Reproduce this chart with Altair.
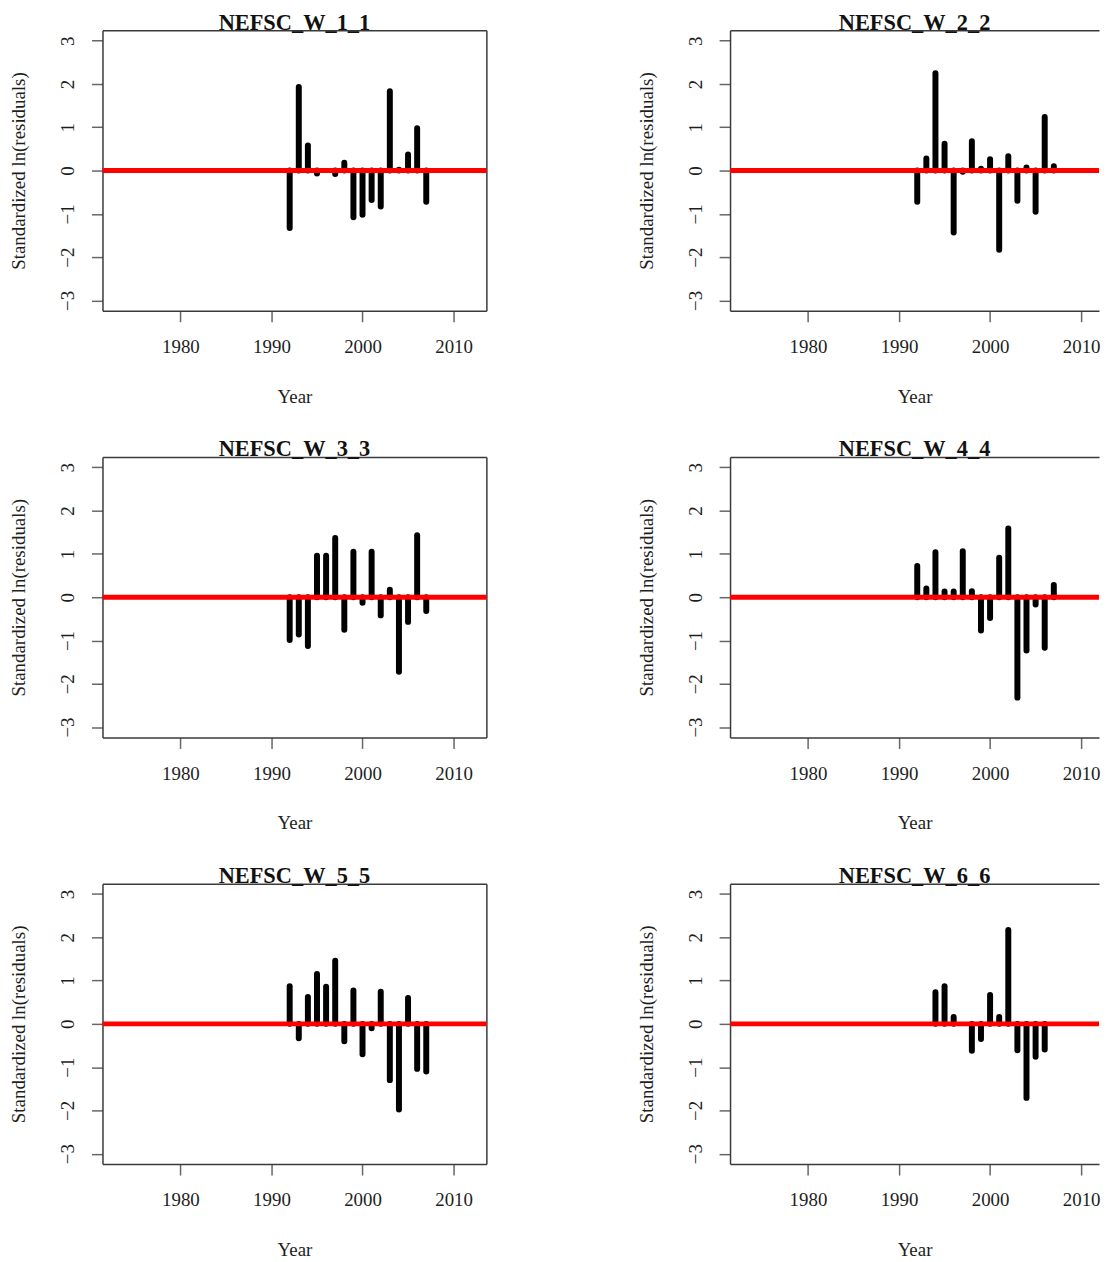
import altair as alt
import pandas as pd

years = list(range(1992, 2008))

titles = ["NEFSC_W_1_1", "NEFSC_W_2_2", "NEFSC_W_3_3",
          "NEFSC_W_4_4", "NEFSC_W_5_5", "NEFSC_W_6_6"]

w11 = [-1.33, 1.93, 0.58, -0.07, None, -0.08, 0.18, -1.08, -1.02, -0.68, -0.83, 1.83, 0.02, 0.37, 0.98, -0.72]
w22 = [-0.72, 0.28, 2.25, 0.62, -1.43, -0.03, 0.68, 0.04, 0.26, -1.83, 0.33, -0.70, 0.07, -0.95, 1.24, 0.10]
w33 = [-0.99, -0.86, -1.13, 0.96, 0.96, 1.37, -0.75, 1.05, -0.13, 1.05, -0.42, 0.17, -1.72, -0.57, 1.43, -0.32]
w44 = [0.72, 0.20, 1.04, 0.13, 0.13, 1.06, 0.14, -0.77, -0.48, 0.91, 1.59, -2.32, -1.23, -0.17, -1.17, 0.28]
w55 = [0.87, -0.33, 0.62, 1.15, 0.86, 1.46, -0.40, 0.77, -0.70, -0.10, 0.74, -1.30, -1.98, 0.60, -1.04, -1.10]
w66 = [None, None, 0.73, 0.87, 0.16, None, -0.62, -0.35, 0.67, 0.16, 2.17, -0.61, -1.71, -0.76, -0.59, None]

series = [w11, w22, w33, w44, w55, w66]

x_ticks = [1980, 1990, 2000, 2010]
y_ticks = [-3, -2, -1, 0, 1, 2, 3]

FONT = "Liberation Serif"
FRAME = "#3a3a3a"
TXT = "#1e1e1e"

X_MIN = 1971.44
PX_PER_YEAR = 9.155
W_LEFT = 386
W_RIGHT = 371
H = 282
Y_DOM = [-3.24, 3.24]


def panel(name, vals, right_col):
    df = pd.DataFrame({"Year": years, "Residual": vals}).dropna()
    width = W_RIGHT if right_col else W_LEFT
    xscale = alt.Scale(domain=[X_MIN, X_MIN + width / PX_PER_YEAR], nice=False, zero=False)
    yscale = alt.Scale(domain=Y_DOM, nice=False, zero=False)

    x_axis = alt.Axis(orient="bottom", values=x_ticks, format="d", grid=False,
                      domain=True, domainColor=FRAME, domainWidth=1.5,
                      tickSize=11, tickColor="#666", tickWidth=1.5,
                      labelFont=FONT, labelFontSize=19, labelColor=TXT,
                      labelPadding=16, labelFlush=False, labelOverlap=False,
                      title="Year", titleFont=FONT, titleFontSize=19,
                      titleFontWeight="normal", titleColor=TXT, titlePadding=31,
                      minExtent=0)
    y_axis = alt.Axis(orient="left", values=y_ticks, format="d", grid=False,
                      domain=True, domainColor=FRAME, domainWidth=1.5,
                      tickSize=11, tickColor="#666", tickWidth=1.5,
                      labelFont=FONT, labelFontSize=19, labelColor=TXT,
                      labelAngle=270, labelAlign="center", labelBaseline="bottom",
                      labelPadding=14, labelFlush=False, labelOverlap=False,
                      title="Standardized ln(residuals)", titleFont=FONT,
                      titleFontSize=19, titleFontWeight="normal", titleColor=TXT,
                      titlePadding=30, minExtent=0)

    bars = alt.Chart(df).mark_rule(color="black", strokeWidth=6, strokeCap="round").encode(
        x=alt.X("Year:Q", scale=xscale, axis=x_axis),
        y=alt.Y("Residual:Q", scale=yscale, axis=y_axis),
        y2=alt.datum(0),
    )

    top_axis = alt.Axis(orient="top", labels=False, ticks=False, grid=False,
                        domain=True, domainColor=FRAME, domainWidth=1.5, title=None,
                        minExtent=0, maxExtent=0)
    if right_col:
        frame_y = alt.Y("Residual:Q", scale=yscale, axis=None)
    else:
        right_axis = alt.Axis(orient="right", labels=False, ticks=False, grid=False,
                              domain=True, domainColor=FRAME, domainWidth=1.5, title=None,
                              minExtent=0, maxExtent=0)
        frame_y = alt.Y("Residual:Q", scale=yscale, axis=right_axis)
    frame = alt.Chart(df).mark_point(opacity=0).encode(
        x=alt.X("Year:Q", scale=xscale, axis=top_axis),
        y=frame_y,
    )

    zero = alt.Chart(pd.DataFrame({"z": [0]})).mark_rule(color="#ff0000", strokeWidth=5).encode(
        y=alt.Y("z:Q", scale=yscale, axis=None)
    )

    return alt.layer(bars, frame, zero).resolve_axis(
        x="independent", y="independent"
    ).properties(
        width=width, height=H,
        view=alt.ViewBackground(stroke="transparent"),
        title=alt.TitleParams(name, font=FONT, fontSize=22.5, fontWeight="bold",
                              color="#111", anchor="middle", offset=-22,
                              baseline="alphabetic"),
    )


panels = [panel(t, s, i % 2 == 1) for i, (t, s) in enumerate(zip(titles, series))]
rows = [alt.hconcat(panels[2 * r], panels[2 * r + 1], spacing=148) for r in range(3)]
chart = alt.vconcat(*rows, spacing=31).properties(
    padding={"left": 1, "top": 0, "right": 0, "bottom": 0}
).configure_view(stroke="transparent")

chart.save("out.html", embed_options={"renderer": "svg", "actions": False})
